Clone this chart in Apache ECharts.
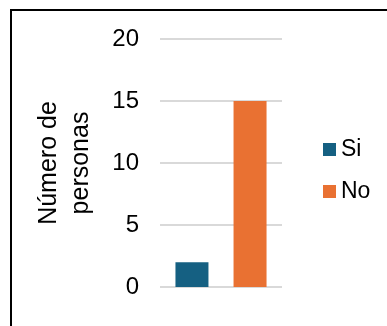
<!DOCTYPE html>
<html>
<head>
<meta charset="utf-8">
<script src="https://cdn.jsdelivr.net/npm/echarts@6/dist/echarts.min.js"></script>
<style>
  html, body { margin: 0; padding: 0; background: #fff; }
  #chart { width: 387px; height: 326px; }
</style>
</head>
<body>
<div id="chart"></div>
<script>
// Answers and respondent counts
const seriesNames = ['Si', 'No'];
const seriesValues = [2, 15];
const seriesColors = ['#156082', '#E97132'];
const yTicks = [0, 5, 10, 15, 20];
const yTitle = 'Número de\npersonas';

const FONT = '"Liberation Sans", Arial, sans-serif';

const chart = echarts.init(document.getElementById('chart'), null, { renderer: 'canvas' });

const series = seriesNames.map((name, i) => ({
  name: name,
  type: 'bar',
  data: [seriesValues[i]],
  barWidth: 33,
  barGap: '76%',
  itemStyle: { color: seriesColors[i] },
  animation: false
}));

chart.setOption({
  animation: false,
  textStyle: { fontFamily: FONT },
  graphic: [{
    type: 'rect',
    shape: { x: 11, y: 10, width: 420, height: 400 },
    style: { fill: 'none', stroke: '#000', lineWidth: 2 },
    silent: true
  }],
  grid: { left: 160, right: 105, top: 39, bottom: 39 },
  legend: {
    orient: 'vertical',
    left: 323,
    top: 138,
    padding: 0,
    itemWidth: 13,
    itemHeight: 13,
    itemGap: 19,
    icon: 'rect',
    data: seriesNames,
    textStyle: { fontFamily: FONT, fontSize: 23, color: '#000', lineHeight: 23 }
  },
  xAxis: {
    type: 'category',
    data: [''],
    axisLine: { show: false },
    axisTick: { show: false },
    axisLabel: { show: false }
  },
  yAxis: {
    type: 'value',
    min: yTicks[0],
    max: yTicks[yTicks.length - 1],
    interval: yTicks[1] - yTicks[0],
    name: yTitle,
    nameLocation: 'middle',
    nameGap: 63,
    nameRotate: 90,
    nameTextStyle: { fontFamily: FONT, fontSize: 25, color: '#000', lineHeight: 32 },
    axisLine: { show: false },
    axisTick: { show: false },
    axisLabel: { fontFamily: FONT, fontSize: 24, color: '#000', margin: 21 },
    splitLine: { lineStyle: { color: '#d9d9d9', width: 2 } }
  },
  series: series
});
</script>
</body>
</html>
